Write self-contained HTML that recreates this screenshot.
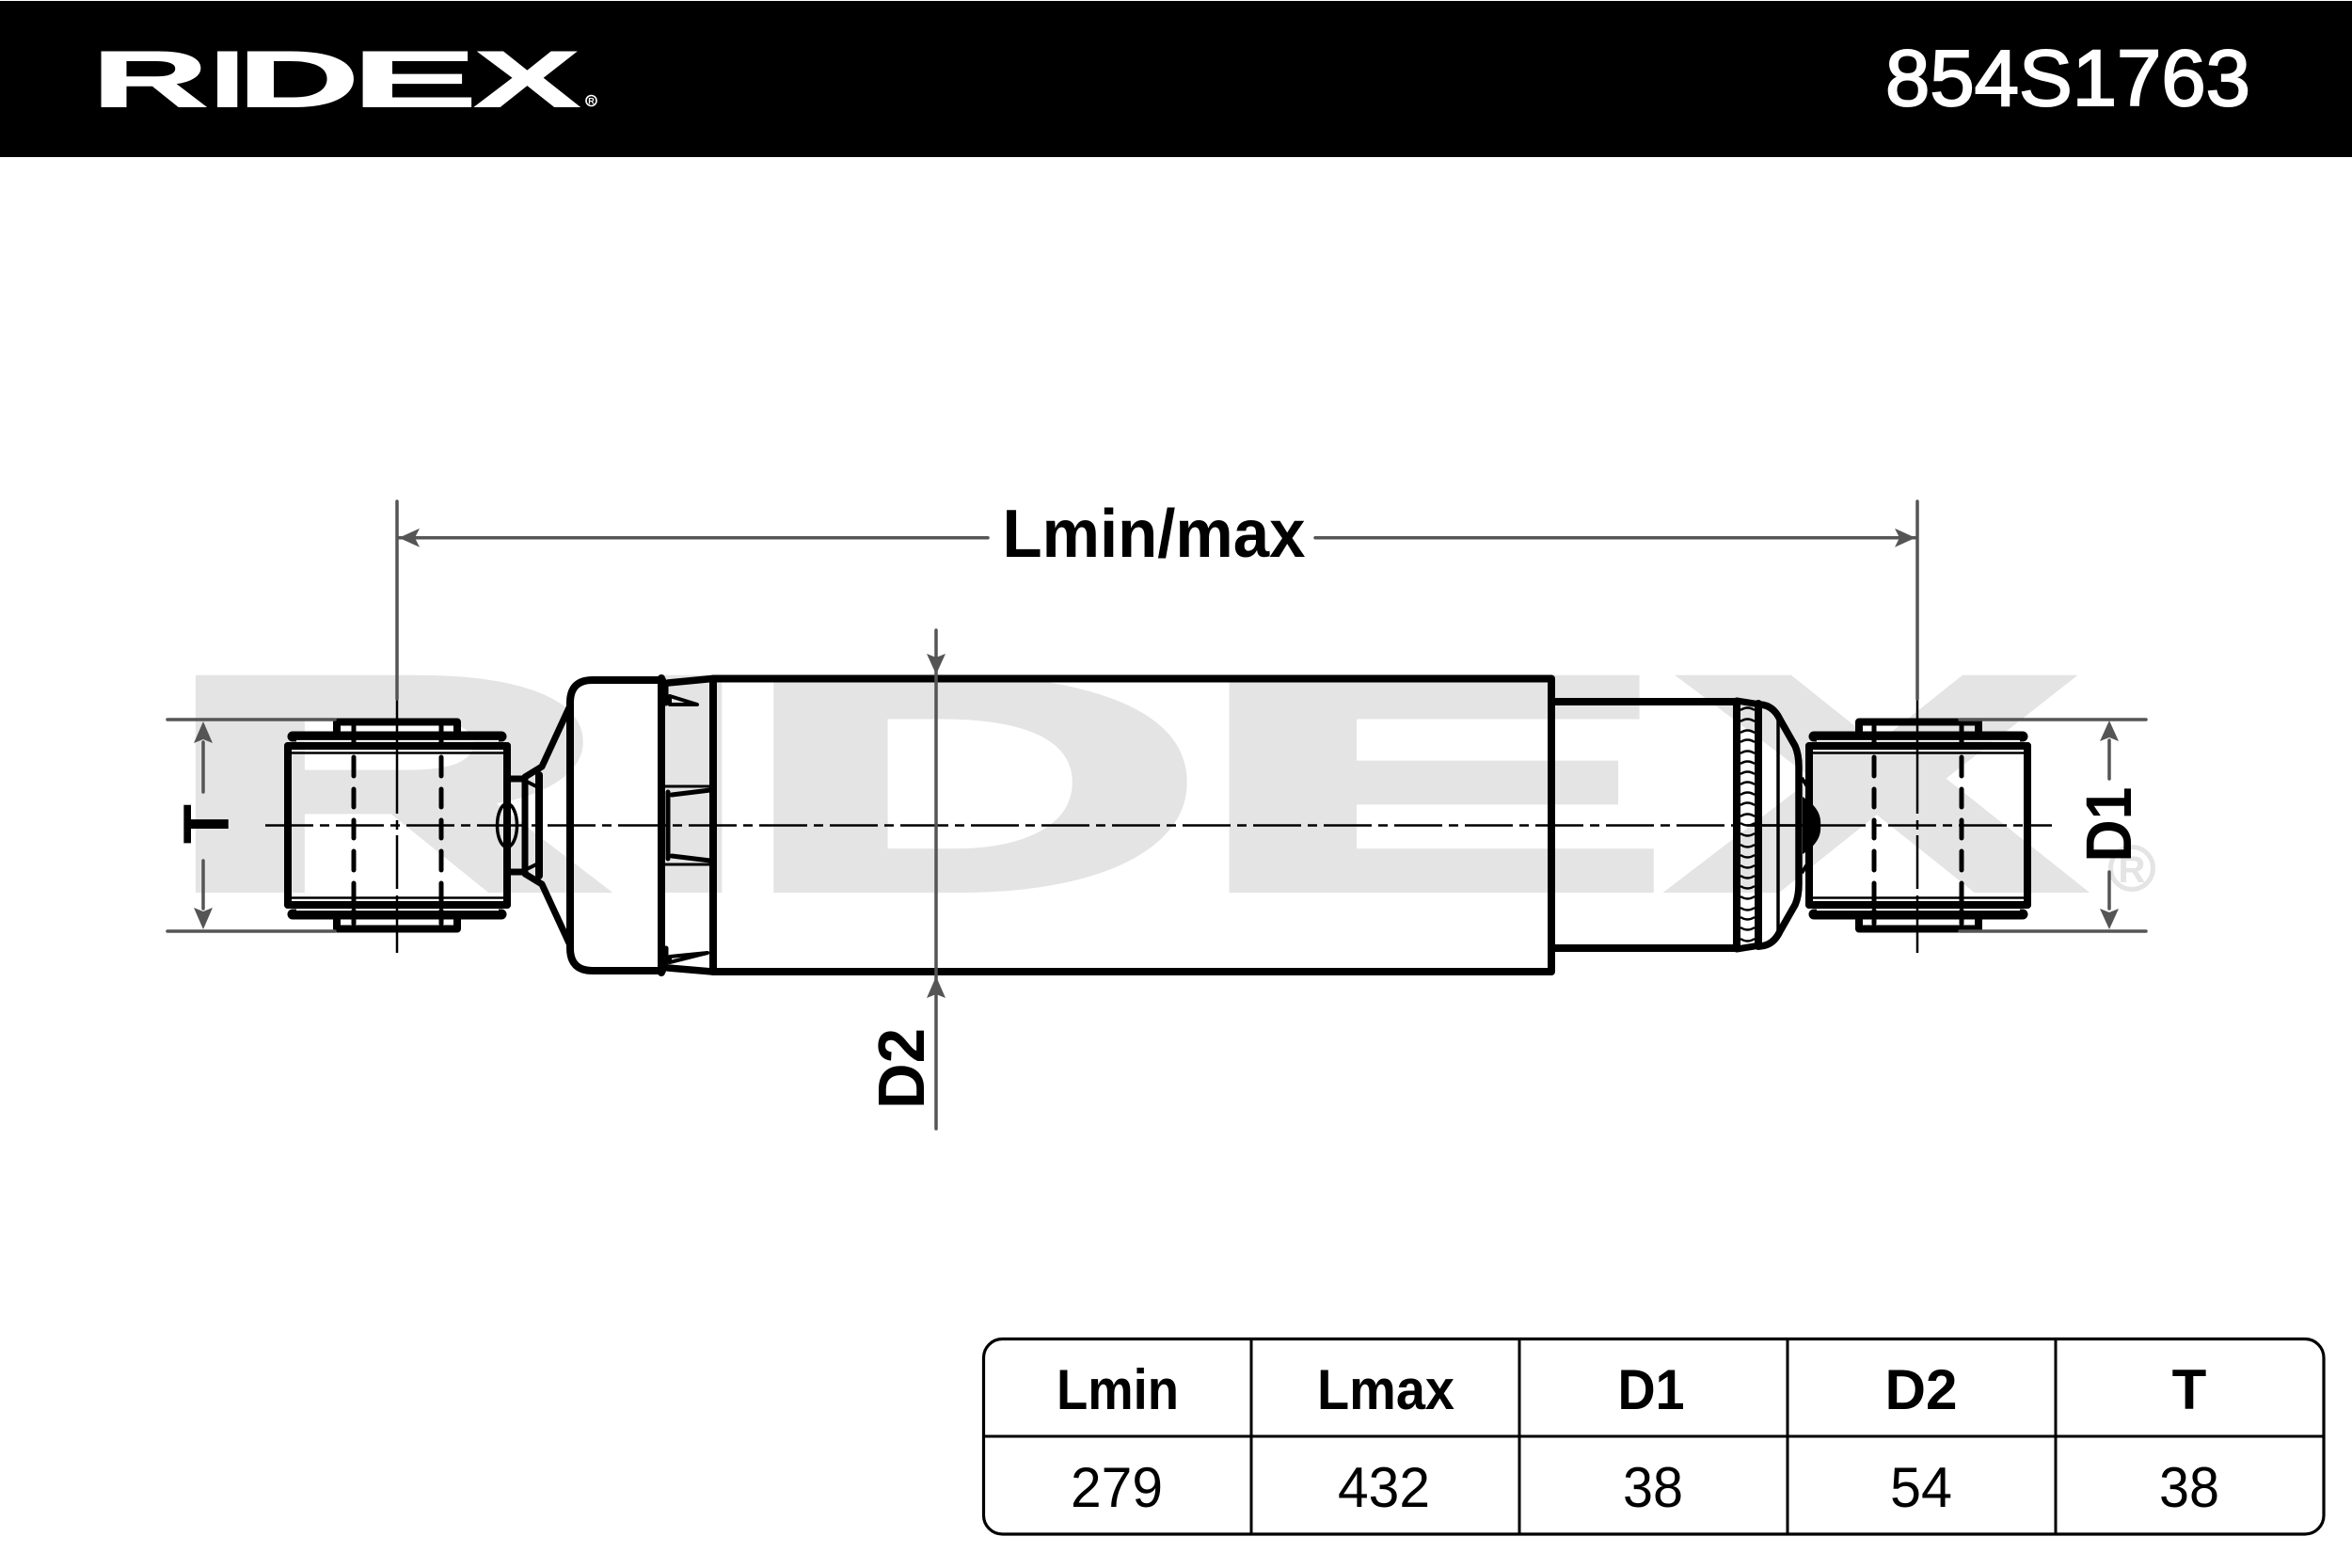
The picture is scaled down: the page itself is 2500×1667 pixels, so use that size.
<!DOCTYPE html>
<html><head><meta charset="utf-8"><style>
html,body{margin:0;padding:0;background:#fff}
svg{display:block}
text{font-family:"Liberation Sans",sans-serif}
.b{fill:none;stroke:#000;stroke-width:8;stroke-linecap:round;stroke-linejoin:round}
.g{fill:none;stroke:#555;stroke-width:3.5;stroke-linecap:round}
.a{fill:#555}
.t{fill:none;stroke:#000;stroke-width:2.5}
.d{fill:none;stroke:#000;stroke-width:5;stroke-linecap:round}
.k{fill:none;stroke:#000;stroke-width:2.5}
.tb{font-size:60px;font-weight:700;text-anchor:middle}
.tn{font-size:60px;text-anchor:middle}
</style></head><body>
<svg width="2500" height="1667" viewBox="0 0 2500 1667" xmlns="http://www.w3.org/2000/svg">
<rect width="2500" height="1667" fill="#fff"/>
<rect y="1" width="2500" height="166" fill="#000"/>

<!-- header wordmark -->
<g transform="translate(108.7,114) scale(1.95,1)" fill="#fff" stroke="#fff" stroke-width="1" font-size="85" font-weight="700">
<text x="-6" y="-0.5" textLength="64" lengthAdjust="spacingAndGlyphs">R</text>
<text x="58.500" y="-0.5" textLength="19.400" lengthAdjust="spacingAndGlyphs">I</text>
<text x="73.400" y="-0.5" textLength="67" lengthAdjust="spacingAndGlyphs">D</text>
<text x="135.700" y="-0.5" textLength="69" lengthAdjust="spacingAndGlyphs">E</text>
<text x="202.600" y="-0.5" textLength="58" lengthAdjust="spacingAndGlyphs">X</text>
</g>
<circle cx="628.5" cy="107" r="5.5" fill="none" stroke="#fff" stroke-width="1.6"/>
<text x="628.5" y="110.5" font-size="9" font-weight="700" fill="#fff" text-anchor="middle">R</text>
<text x="2198" y="112" font-size="84" fill="#fff" stroke="#fff" stroke-width="2" text-anchor="middle" textLength="388" lengthAdjust="spacingAndGlyphs">854S1763</text>

<!-- watermark -->
<g transform="translate(209,943.400) scale(7.71,3.72)" fill="#e4e4e4" stroke="#e4e4e4" stroke-width="3" font-size="86" font-weight="700">
<text x="-4.300" y="0" textLength="60.700" lengthAdjust="spacingAndGlyphs">R</text>
<text x="61.400" y="0" textLength="13.400" lengthAdjust="spacingAndGlyphs">I</text>
<text x="75.200" y="0" textLength="63.500" lengthAdjust="spacingAndGlyphs">D</text>
<text x="137.500" y="0" textLength="65.500" lengthAdjust="spacingAndGlyphs">E</text>
<text x="204.100" y="0" textLength="55" lengthAdjust="spacingAndGlyphs">X</text>
</g>
<circle cx="2266" cy="923" r="22.5" fill="none" stroke="#e4e4e4" stroke-width="5"/>
<text x="2266" y="938" font-size="40" font-weight="700" fill="#e4e4e4" text-anchor="middle">R</text>

<!-- centre line -->
<line x1="282" y1="877.5" x2="2181" y2="877.5" class="t" stroke-dasharray="51 7 10 7"/>
<line x1="1860" y1="877.5" x2="1932" y2="877.5" class="t"/>

<!-- left bushing -->
<g>
<path class="b" d="M358 781V767.5H486V781"/>
<path class="b" d="M358 974V987.5H486V974"/>
<line x1="311" y1="783" x2="533" y2="783" class="b" style="stroke-width:11"/>
<line x1="311" y1="972" x2="533" y2="972" class="b" style="stroke-width:11"/>
<line x1="315" y1="787.6" x2="530" y2="787.6" stroke="#fff" stroke-width="1.5"/>
<line x1="315" y1="967.4" x2="530" y2="967.4" stroke="#fff" stroke-width="1.5"/>
<line x1="306" y1="793" x2="539" y2="793" class="b"/>
<line x1="306" y1="962" x2="539" y2="962" class="b"/>
<line x1="308" y1="800.5" x2="537" y2="800.5" class="t"/>
<line x1="308" y1="954.5" x2="537" y2="954.5" class="t"/>
<path class="b" d="M306 793V962M539 793V962"/>
<path class="d" d="M376 772V790M376 805V825M376 839V858M376 872V891M376 905V925M376 939V958M376 968V982M469 772V790M469 805V825M469 839V858M469 872V891M469 905V925M469 939V958M469 968V982"/>
<path class="t" d="M422 743V865M422 872V882M422 888V945M422 952V1013"/>
<path class="b" d="M543 828H556M543 927H556M558 827V928" style="stroke-width:7"/>
<path class="b" d="M573 824V931"/>
<path class="b" d="M558 826L576 815L606 750M558 929L576 940L606 1005" style="stroke-width:7"/>
<path d="M562 832L574 838M562 923L574 917" class="b" style="stroke-width:4"/>
<ellipse cx="539" cy="877.5" rx="10.5" ry="23" fill="none" stroke="#000" stroke-width="3.5"/>
</g>

<!-- cap -->
<path class="b" d="M704 723H630Q606 723 606 747V1008Q606 1032 630 1032H704"/>
<path class="b" d="M703 721V1034"/>
<path class="b" d="M708 726V748M708 1008V1030M710 842V913" style="stroke-width:5"/>
<path class="b" d="M710 726L757 721.5M710 1029L757 1033" style="stroke-width:7.5"/>
<path d="M707 836H757M707 919H757" stroke="#000" stroke-width="3" fill="none"/>
<path class="b" d="M714 845L755 840M714 910L755 915" style="stroke-width:5"/>
<path class="b" d="M712 740V749L741 749L712 740" style="stroke-width:4"/>
<path class="b" d="M712 1023V1017L752 1013L712 1023" style="stroke-width:4"/>

<!-- main body -->
<rect x="758" y="721.5" width="891" height="311.5" class="b"/>

<!-- rod and dome -->
<path class="b" d="M1653 746H1846V1008H1653"/>
<path class="b" d="M1846 745L1871 749M1846 1009L1871 1005" style="stroke-width:7"/>
<path class="b" d="M1869 748V1006"/>
<path class="k" d="M1850 755q7.500 -5 15 0M1850 767q7.500 -5 15 0M1850 779q7.500 -5 15 0M1850 789q7.500 -5 15 0M1850 801q7.500 -5 15 0M1850 812q7.500 -5 15 0M1850 823q7.500 -5 15 0M1850 834q7.500 -5 15 0M1850 845q7.500 -5 15 0M1850 856q7.500 -5 15 0M1850 868q7.500 -5 15 0M1850 875q7.500 5 15 0M1850 886q7.500 5 15 0M1850 898q7.500 5 15 0M1850 909q7.500 5 15 0M1850 920q7.500 5 15 0M1850 931q7.500 5 15 0M1850 942q7.500 5 15 0M1850 953q7.500 5 15 0M1850 965q7.500 5 15 0M1850 975q7.500 5 15 0M1850 986q7.500 5 15 0M1850 998q7.500 5 15 0"/>
<path class="b" d="M1871 749Q1885 750 1892 765L1908 793Q1912 802 1912 815V940Q1912 953 1908 962L1892 990Q1885 1005 1871 1006" style="stroke-width:7.5"/>
<line x1="1890" y1="765" x2="1890" y2="990" stroke="#000" stroke-width="3.5"/>
<path d="M1915 827L1925 842M1915 928L1925 913" stroke="#000" stroke-width="4" fill="none"/>
<path d="M1916 847Q1937 860 1935 877.5Q1937 895 1916 908Z" fill="#000"/>

<!-- right bushing -->
<g>
<path class="b" d="M1976 781V767.5H2103V781"/>
<path class="b" d="M1976 974V987.5H2103V974"/>
<line x1="1928" y1="783" x2="2150" y2="783" class="b" style="stroke-width:11"/>
<line x1="1928" y1="972" x2="2150" y2="972" class="b" style="stroke-width:11"/>
<line x1="1931" y1="787.6" x2="2147" y2="787.6" stroke="#fff" stroke-width="1.5"/>
<line x1="1931" y1="967.4" x2="2147" y2="967.4" stroke="#fff" stroke-width="1.5"/>
<line x1="1923" y1="793" x2="2155" y2="793" class="b"/>
<line x1="1923" y1="962" x2="2155" y2="962" class="b"/>
<line x1="1925" y1="800.5" x2="2153" y2="800.5" class="t"/>
<line x1="1925" y1="954.5" x2="2153" y2="954.5" class="t"/>
<path class="b" d="M1923 793V962M2155 793V962"/>
<path class="d" d="M1992 772V790M1992 805V825M1992 839V858M1992 872V891M1992 905V925M1992 939V958M1992 968V982M2085 772V790M2085 805V825M2085 839V858M2085 872V891M2085 905V925M2085 939V958M2085 968V982"/>
<path class="t" d="M2038 743V865M2038 872V882M2038 888V945M2038 952V1013"/>
</g>

<!-- dimensions -->
<path class="g" d="M422 533V743M2038 533V743"/>
<path class="g" d="M424 571.7H1050M1398 571.7H2036"/>
<path class="a" d="M424 571.7L446 561.7L441 571.7L446 581.7Z"/>
<path class="a" d="M2036 571.7L2014 561.7L2019 571.7L2014 581.7Z"/>
<text x="1226.5" y="592" font-size="72" font-weight="700" text-anchor="middle" textLength="322" lengthAdjust="spacingAndGlyphs">Lmin/max</text>

<path class="g" d="M178 765H356M178 990H356M216 789V842M216 915V966"/>
<path class="a" d="M216 767L226 790L216 786L206 790Z"/>
<path class="a" d="M216 988L226 965L216 969L206 965Z"/>
<text transform="translate(242.6,876) rotate(-90)" font-size="69" font-weight="700" text-anchor="middle">T</text>

<path class="g" d="M2083 765H2281M2083 990H2281M2242 787V828M2242 927V966"/>
<path class="a" d="M2242 766L2252 788L2242 784L2232 788Z"/>
<path class="a" d="M2242 988L2252 966L2242 970L2232 966Z"/>
<text transform="translate(2265,876.5) rotate(-90)" font-size="69" font-weight="700" text-anchor="middle" textLength="80" lengthAdjust="spacingAndGlyphs">D1</text>

<path class="g" d="M995 670V1200"/>
<path class="a" d="M995 717L1005 695L995 699L985 695Z"/>
<path class="a" d="M995 1038L1005 1061L995 1057L985 1061Z"/>
<text transform="translate(982,1136) rotate(-90)" font-size="70" font-weight="700" text-anchor="middle" textLength="86" lengthAdjust="spacingAndGlyphs">D2</text>

<!-- table -->
<rect x="1045.5" y="1423.5" width="1424.5" height="207.5" rx="20" fill="none" stroke="#000" stroke-width="3.2"/>
<path d="M1045.5 1527H2470M1330 1423V1631M1615 1423V1631M1900 1423V1631M2185 1423V1631" stroke="#000" stroke-width="3" fill="none"/>
<text class="tb" x="1188" y="1498" textLength="130" lengthAdjust="spacingAndGlyphs">Lmin</text>
<text class="tb" x="1473" y="1498" textLength="146" lengthAdjust="spacingAndGlyphs">Lmax</text>
<text class="tb" x="1755" y="1498" textLength="71" lengthAdjust="spacingAndGlyphs">D1</text>
<text class="tb" x="2042" y="1498" textLength="77" lengthAdjust="spacingAndGlyphs">D2</text>
<text class="tb" x="2327" y="1498">T</text>
<text class="tn" x="1187" y="1602" textLength="98" lengthAdjust="spacingAndGlyphs">279</text>
<text class="tn" x="1471" y="1602" textLength="98" lengthAdjust="spacingAndGlyphs">432</text>
<text class="tn" x="1757" y="1602" textLength="64" lengthAdjust="spacingAndGlyphs">38</text>
<text class="tn" x="2042" y="1602" textLength="66" lengthAdjust="spacingAndGlyphs">54</text>
<text class="tn" x="2327" y="1602" textLength="64" lengthAdjust="spacingAndGlyphs">38</text>
</svg>
</body></html>
